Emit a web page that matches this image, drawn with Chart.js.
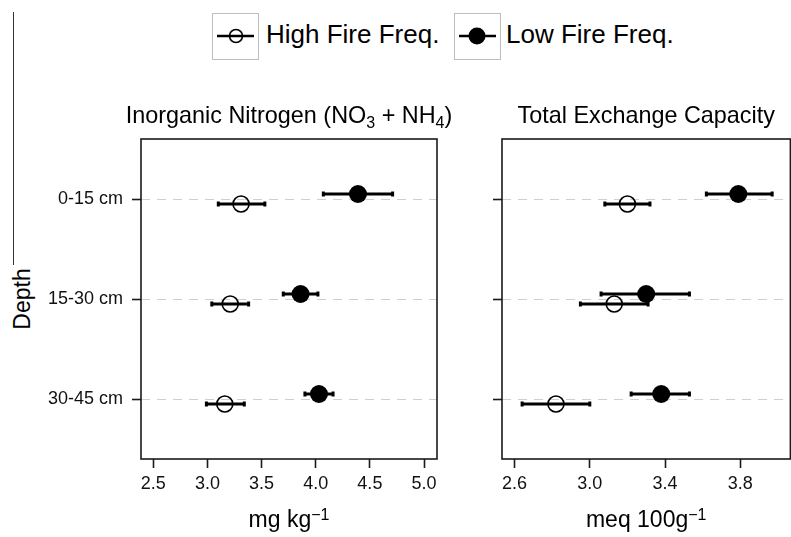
<!DOCTYPE html>
<html>
<head>
<meta charset="utf-8">
<script src="https://cdn.jsdelivr.net/npm/chart.js@4"></script>
<style>
    html, body { margin: 0; padding: 0; background: #fff; overflow: hidden; }
    body { width: 791px; height: 537px; position: relative; font-family: "Liberation Sans", Arial, sans-serif; color: #000; }
    canvas { position: absolute; top: 0; }
    #nChart { left: 0; }
    #tecChart { left: 460px; }
    .leg-box { position: absolute; top: 13px; width: 45px; height: 45px; border: 1px solid #bdbdbd; }
    .leg-text { position: absolute; top: 21px; font-size: 26px; line-height: 26px; white-space: nowrap; }
    #depth { position: absolute; left: 22px; top: 299px; font-size: 23px; transform: translate(-50%, -50%) rotate(-90deg); white-space: nowrap; }
    #edge { position: absolute; left: 13px; top: 12px; width: 1px; height: 253px; background: #333; }
</style>
</head>
<body>
<div id="edge"></div>
<div class="leg-box" style="left:212px">
    <svg width="45" height="45"><line x1="4" y1="22" x2="41" y2="22" stroke="#000" stroke-width="2.5"/><circle cx="23" cy="22" r="6.5" fill="none" stroke="#000" stroke-width="1.6"/></svg>
</div>
<div class="leg-text" style="left:266px">High Fire Freq.</div>
<div class="leg-box" style="left:454px">
    <svg width="45" height="45"><line x1="4" y1="22" x2="41" y2="22" stroke="#000" stroke-width="2.5"/><circle cx="22" cy="22" r="8.5" fill="#000"/></svg>
</div>
<div class="leg-text" style="left:506px">Low Fire Freq.</div>
<div id="depth">Depth</div>

<canvas id="nChart" width="460" height="537"></canvas>
<canvas id="tecChart" width="340" height="537"></canvas>

<script>
const depths = ['0-15 cm', '15-30 cm', '30-45 cm'];

// Inorganic nitrogen (mg kg-1)
const nHighMean = [3.31, 3.21, 3.16];
const nHighLo   = [3.10, 3.04, 2.99];
const nHighHi   = [3.53, 3.38, 3.34];
const nLowMean  = [4.39, 3.86, 4.03];
const nLowLo    = [4.07, 3.70, 3.90];
const nLowHi    = [4.71, 4.02, 4.16];
const nTicks    = [2.5, 3.0, 3.5, 4.0, 4.5, 5.0];

// Total exchange capacity (meq 100g-1)
const tecHighMean = [3.20, 3.13, 2.82];
const tecHighLo   = [3.08, 2.95, 2.64];
const tecHighHi   = [3.32, 3.31, 3.00];
const tecLowMean  = [3.79, 3.30, 3.38];
const tecLowLo    = [3.62, 3.06, 3.22];
const tecLowHi    = [3.97, 3.53, 3.53];
const tecTicks    = [2.6, 3.0, 3.4, 3.8];

const nTitle = [{t: 'Inorganic Nitrogen (NO'}, {t: '3', sub: true}, {t: ' + NH'}, {t: '4', sub: true}, {t: ')'}];
const nAxisTitle = [{t: 'mg kg'}, {t: '\u22121', sup: true}];
const tecTitle = [{t: 'Total Exchange Capacity'}];
const tecAxisTitle = [{t: 'meq 100g'}, {t: '\u22121', sup: true}];

const FONT = '"Liberation Sans", Arial, sans-serif';
Chart.defaults.font.family = FONT;
Chart.defaults.font.size = 18;
Chart.defaults.color = '#111';

function drawRich(ctx, segs, cx, y, size) {
    const small = Math.round(size * 0.68);
    const fontFor = s => ((s.sub || s.sup) ? small : size) + 'px ' + FONT;
    ctx.save();
    ctx.fillStyle = '#000';
    ctx.textAlign = 'left';
    ctx.textBaseline = 'alphabetic';
    let w = 0;
    segs.forEach(s => { ctx.font = fontFor(s); w += ctx.measureText(s.t).width; });
    let x = cx - w / 2;
    segs.forEach(s => {
        ctx.font = fontFor(s);
        const dy = s.sub ? size * 0.2 : s.sup ? -size * 0.32 : 0;
        ctx.fillText(s.t, x, y + dy);
        x += ctx.measureText(s.t).width;
    });
    ctx.restore();
}

const errorBars = {
    id: 'errorBars',
    beforeDatasetsDraw(chart) {
        const {ctx, scales: {x, y}} = chart;
        ctx.save();
        ctx.strokeStyle = '#000';
        ctx.fillStyle = '#000';
        ctx.lineWidth = 3;
        chart.data.datasets.forEach(ds => {
            ds.data.forEach((p, i) => {
                const x1 = x.getPixelForValue(ds.lo[i]);
                const x2 = x.getPixelForValue(ds.hi[i]);
                const py = y.getPixelForValue(p.y);
                ctx.beginPath();
                ctx.moveTo(x1, py);
                ctx.lineTo(x2, py);
                ctx.stroke();
                ctx.fillRect(x1 - 1.5, py - 2.5, 3, 5);
                ctx.fillRect(x2 - 1.5, py - 2.5, 3, 5);
            });
        });
        ctx.restore();
    }
};

const panelDecor = {
    id: 'panelDecor',
    afterDraw(chart, args, opts) {
        const {ctx, chartArea: a} = chart;
        ctx.save();
        ctx.strokeStyle = '#1a1a1a';
        ctx.lineWidth = 1.6;
        ctx.strokeRect(a.left, a.top, a.right - a.left, a.bottom - a.top);
        ctx.restore();
        const cx = (a.left + a.right) / 2;
        drawRich(ctx, opts.title, cx, 123, 23.4);
        drawRich(ctx, opts.axisTitle, cx, 527, 23);
    }
};

function points(means, off) {
    return means.map((m, i) => ({x: m, y: i + 1 + off}));
}

function makePanel(id, opt) {
    return new Chart(document.getElementById(id), {
        type: 'scatter',
        data: {
            datasets: [
                {
                    label: 'High Fire Freq.',
                    data: points(opt.highMean, 0.05),
                    lo: opt.highLo, hi: opt.highHi,
                    pointRadius: 8, pointHoverRadius: 8,
                    backgroundColor: 'rgba(0,0,0,0)',
                    borderColor: '#000', borderWidth: 1.6
                },
                {
                    label: 'Low Fire Freq.',
                    data: points(opt.lowMean, -0.05),
                    lo: opt.lowLo, hi: opt.lowHi,
                    pointRadius: 9, pointHoverRadius: 9,
                    backgroundColor: '#000',
                    borderColor: '#000', borderWidth: 0
                }
            ]
        },
        options: {
            responsive: false,
            animation: false,
            layout: {padding: {top: 139, left: 0, right: opt.padRight, bottom: 0}},
            plugins: {
                legend: {display: false},
                tooltip: {enabled: false},
                panelDecor: {title: opt.title, axisTitle: opt.axisTitle}
            },
            scales: {
                x: {
                    type: 'linear',
                    min: opt.xMin, max: opt.xMax,
                    afterBuildTicks: s => { s.ticks = opt.ticks.map(v => ({value: v})); },
                    afterFit: s => { s.height = 78; },
                    ticks: {padding: 5, callback: v => v.toFixed(1)},
                    grid: {drawOnChartArea: false, tickLength: 9, tickColor: '#1a1a1a', tickWidth: 1.6},
                    border: {display: false}
                },
                y: {
                    type: 'linear',
                    reverse: true,
                    min: 0.4, max: 3.6,
                    afterBuildTicks: s => { s.ticks = depths.map((d, i) => ({value: i + 1})); },
                    afterFit: s => { s.width = opt.yWidth; },
                    ticks: {padding: 9, callback: v => opt.showDepth ? depths[v - 1] : ''},
                    grid: {color: '#cfcfcf', lineWidth: 1, tickLength: 9, tickColor: '#1a1a1a', tickWidth: 1.6},
                    border: {display: false, dash: [9, 7]}
                }
            }
        },
        plugins: [errorBars, panelDecor]
    });
}

makePanel('nChart', {
    highMean: nHighMean, highLo: nHighLo, highHi: nHighHi,
    lowMean: nLowMean, lowLo: nLowLo, lowHi: nLowHi,
    ticks: nTicks, xMin: 2.386, xMax: 5.12,
    yWidth: 141, padRight: 23, showDepth: true,
    title: nTitle, axisTitle: nAxisTitle
});

makePanel('tecChart', {
    highMean: tecHighMean, highLo: tecHighLo, highHi: tecHighHi,
    lowMean: tecLowMean, lowLo: tecLowLo, lowHi: tecLowHi,
    ticks: tecTicks, xMin: 2.533, xMax: 4.067,
    yWidth: 42, padRight: 2, showDepth: false,
    title: tecTitle, axisTitle: tecAxisTitle
});
</script>
</body>
</html>
